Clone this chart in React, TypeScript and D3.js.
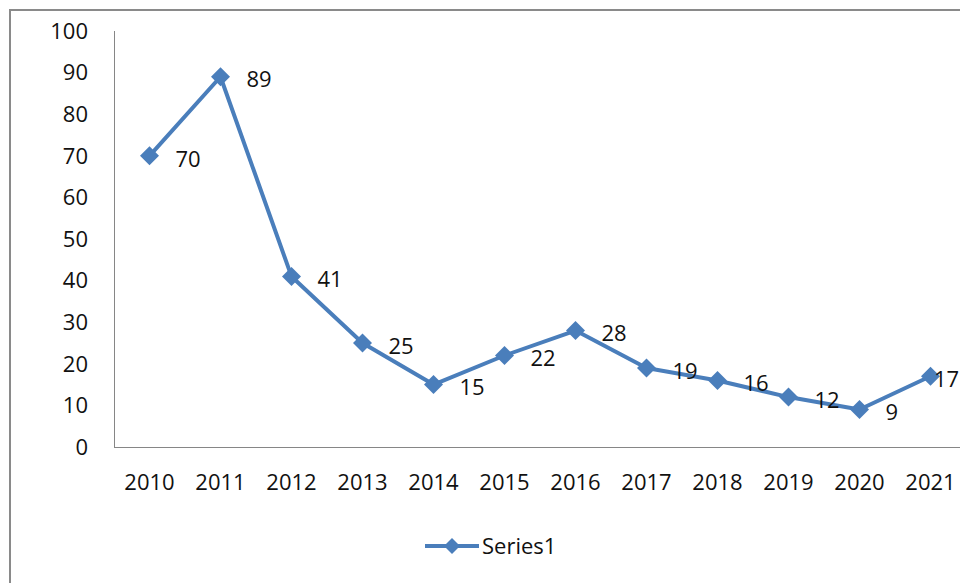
import React, { useEffect, useRef } from "react";
import * as d3 from "d3";

const years = ["2010", "2011", "2012", "2013", "2014", "2015", "2016", "2017", "2018", "2019", "2020", "2021"];
const values = [70, 89, 41, 25, 15, 22, 28, 19, 16, 12, 9, 17];
const yTicks = [0, 10, 20, 30, 40, 50, 60, 70, 80, 90, 100];
const seriesName = "Series1";

const App: React.FC = () => {
  const svgRef = useRef<SVGSVGElement>(null);

  useEffect(() => {
    const svg = d3.select(svgRef.current).attr("width", 960).attr("height", 583);
    svg.selectAll("*").remove();

    const font = "'Open Sans', 'Noto Sans', sans-serif";
    const fs = 22;
    const blue = "#4a7ebb";
    const left = 114;
    const top = 31;
    const bottom = 447;

    // outer frame
    svg.append("rect")
      .attr("x", 10).attr("y", 10)
      .attr("width", 1000).attr("height", 1000)
      .attr("fill", "white")
      .attr("stroke", "#8a8a8a")
      .attr("stroke-width", 2);

    const x = d3.scaleBand().domain(years).range([left, left + 71 * years.length]);
    const y = d3.scaleLinear().domain([0, 100]).range([bottom, top]);
    const cx = (d: string) => (x(d) || 0) + x.bandwidth() / 2;

    // axes lines
    svg.append("line")
      .attr("x1", left + 0.5).attr("x2", left + 0.5)
      .attr("y1", top).attr("y2", bottom)
      .attr("stroke", "#868686");
    svg.append("line")
      .attr("x1", left).attr("x2", 960)
      .attr("y1", bottom + 0.5).attr("y2", bottom + 0.5)
      .attr("stroke", "#868686");

    // y tick labels
    svg.selectAll(".ytick")
      .data(yTicks)
      .enter()
      .append("text")
      .attr("x", 88)
      .attr("y", (d) => y(d))
      .attr("dy", "0.35em")
      .attr("text-anchor", "end")
      .attr("font-family", font)
      .attr("font-size", fs)
      .attr("fill", "#111")
      .text((d) => d);

    // x tick labels
    svg.selectAll(".xtick")
      .data(years)
      .enter()
      .append("text")
      .attr("x", (d) => cx(d))
      .attr("y", 482)
      .attr("dy", "0.35em")
      .attr("text-anchor", "middle")
      .attr("font-family", font)
      .attr("font-size", fs)
      .attr("fill", "#111")
      .text((d) => d);

    const pts = years.map((d, i) => ({ year: d, v: values[i] }));

    const line = d3.line<{ year: string; v: number }>()
      .x((d) => cx(d.year))
      .y((d) => y(d.v));

    svg.append("path")
      .datum(pts)
      .attr("d", line)
      .attr("fill", "none")
      .attr("stroke", blue)
      .attr("stroke-width", 4)
      .attr("stroke-linejoin", "round");

    const diamond = (px: number, py: number, r: number) =>
      `M${px},${py - r}L${px + r},${py}L${px},${py + r}L${px - r},${py}Z`;

    svg.selectAll(".marker")
      .data(pts)
      .enter()
      .append("path")
      .attr("d", (d) => diamond(cx(d.year), y(d.v), 9.5))
      .attr("fill", blue);

    // data labels (pushed back inside the chart near the right edge)
    svg.selectAll(".label")
      .data(pts)
      .enter()
      .append("text")
      .attr("x", (d) => Math.min(cx(d.year) + 26, 934))
      .attr("y", (d) => y(d.v) + 3)
      .attr("dy", "0.35em")
      .attr("font-family", font)
      .attr("font-size", fs)
      .attr("fill", "#111")
      .text((d) => d.v);

    // legend
    svg.append("line")
      .attr("x1", 425).attr("x2", 479)
      .attr("y1", 546).attr("y2", 546)
      .attr("stroke", blue)
      .attr("stroke-width", 4);
    svg.append("path").attr("d", diamond(452, 546, 8)).attr("fill", blue);
    svg.append("text")
      .attr("x", 482)
      .attr("y", 546)
      .attr("dy", "0.35em")
      .attr("font-family", font)
      .attr("font-size", fs)
      .attr("fill", "#111")
      .text(seriesName);
  }, []);

  return (
    <svg ref={svgRef} style={{ position: "absolute", left: 0, top: 0, display: "block" }}></svg>
  );
};

export default App;
